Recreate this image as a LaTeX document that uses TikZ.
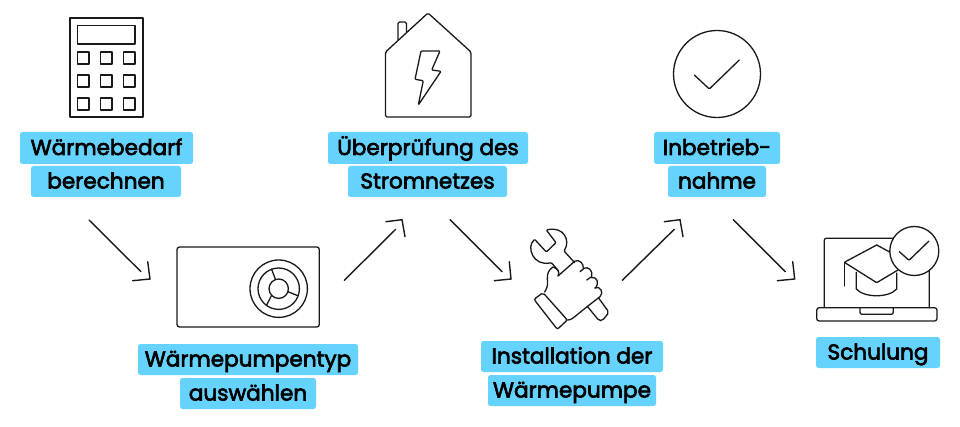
\documentclass[tikz,border=0pt]{standalone}
\usepackage{fontspec}
\setmainfont{Poppins}[FakeBold=3]
\definecolor{labelblue}{HTML}{66D3FF}
\tikzset{
  lbl/.style={fill=labelblue,rounded corners=2.5pt,inner sep=0pt,text=black,align=center,
    text height=17pt,text depth=3pt,font=\fontsize{21.6pt}{24pt}\selectfont},
  icon/.style={draw=black!90,line width=1.3pt,line join=round,line cap=round},
  flow/.style={draw=black!90,line width=1.4pt,line cap=round,line join=miter},
}
\newcommand\flowarrow[6]{%
  \coordinate (#1s) at (#2); \coordinate (#1e) at (#3);
  \coordinate (#1a) at (#4); \coordinate (#1t) at (#5); \coordinate (#1b) at (#6);
  \draw[flow] (#1s) -- (#1e);
  \draw[flow] (#1a) -- (#1t) -- (#1b);
}
\begin{document}
\begin{tikzpicture}[x=1pt,y=-1pt]
\path[fill=white,use as bounding box] (0,0) rectangle (960,427);
% labels
\node[lbl,minimum width=173pt,minimum height=32pt] (l1a) at (106.5,148) {Wärmebedarf};
\node[lbl,minimum width=150pt,minimum height=31pt] (l1b) at (106,181.5) {berechnen};
\node[lbl,minimum width=200pt,minimum height=32pt] (l3a) at (428,148) {Überprüfung des};
\node[lbl,minimum width=159pt,minimum height=31pt] (l3b) at (427.5,181.5) {Stromnetzes};
\node[lbl,minimum width=126pt,minimum height=32pt] (l5a) at (717,148) {Inbetrieb-};
\node[lbl,minimum width=98pt,minimum height=31pt] (l5b) at (717,181.5) {nahme};
\node[lbl,minimum width=220pt,minimum height=31pt] (l2a) at (248,359.5) {Wärmepumpentyp};
\node[lbl,minimum width=136pt,minimum height=31pt] (l2b) at (248,393.5) {auswählen};
\node[lbl,minimum width=182pt,minimum height=31pt] (l4a) at (572,356.5) {Installation der};
\node[lbl,minimum width=168pt,minimum height=31pt] (l4b) at (572,390.5) {Wärmepumpe};
\node[lbl,minimum width=124pt,minimum height=31pt] (l6) at (878,352.5) {Schulung};
% arrows
\flowarrow{f1}{89,220}{141,271.7}{147.7,261.7}{150,279}{132.7,280.7}
\flowarrow{f2}{344.3,280.3}{395.7,229.3}{386,221.7}{402,219.7}{405,236.7}
\flowarrow{f3}{450,219.7}{502,271.7}{509.3,261.7}{511,279}{494.3,280.7}
\flowarrow{f4}{622.3,280.3}{674.3,229.3}{664.3,221.7}{680,219.7}{683,236.7}
\flowarrow{f5}{733.3,219.7}{785.3,271.7}{792.7,261.7}{794.7,279}{777.3,280.7}
% calculator
\draw[icon] (70,18) rectangle (143,117);
\draw[icon] (77.5,25.5) rectangle (135,44);
\foreach \kx in {77.5,100.5,123.5}
  \foreach \ky in {52,75,98}
    \draw[icon] (\kx,\ky) rectangle +(11.5,12);
% house
\draw[icon,rounded corners=1.5pt] (428,13) -- (471,52) -- (471,117) -- (385.5,117) -- (385.5,52) -- cycle;
\draw[icon,rounded corners=1.5pt] (398,40) -- (398,22) -- (406.5,22) -- (406.5,32);
\draw[icon,rounded corners=1pt] (421,51) -- (440,51) -- (431.7,70) -- (441,71.3) -- (418.3,105) -- (423.3,80.7) -- (415,79.3) -- cycle;
% check mark circle
\draw[icon] (717,74) circle[radius=43.5pt];
\draw[icon,rounded corners=1pt] (694.3,75) -- (709.3,89) -- (739.3,60);
% heat pump
\draw[icon,rounded corners=2.5pt] (177,247) rectangle (319.3,327);
\draw[icon] (278.7,288.7) circle[radius=28.7pt];
\draw[icon] (278.7,288.7) circle[radius=20.7pt];
\draw[icon] (278.7,288.7) circle[radius=9.7pt];
\draw[icon] (275.5,279.5) -- (271.5,269);
\draw[icon] (288,291.7) -- (297.7,295.7);
\draw[icon] (271.5,295.5) -- (266.7,305);
% hand and wrench
\begin{scope}[shift={(440,210)},x=0.33333pt,y=-0.33333pt]
\draw[icon,rounded corners=1pt] (404,158) -- (372,123) .. controls (392,92) and (372,48) .. (319,60)
  -- (348,98) -- (319,126) -- (284,88) .. controls (258,112) and (280,170) .. (334,158) -- (356,183);
\draw[icon] (354,198) .. controls (362,186) and (350,174) .. (339,171)
  .. controls (325,180) and (322,190) .. (322,206) .. controls (322,220) and (326,226) .. (314,246);
\draw[icon] (354,198) -- (405,153) .. controls (418,148) and (432,160) .. (430,177) -- (420,185);
\draw[icon] (430,175) .. controls (445,168) and (460,182) .. (455,200) -- (440,210);
\draw[icon] (455,203) .. controls (470,198) and (480,220) .. (465,235);
\draw[icon] (465,233) .. controls (482,228) and (492,248) .. (480,260) -- (435,295) -- (398,325) .. controls (392,329) and (386,331) .. (380,330);
\draw[icon,rounded corners=2pt] (282,268) -- (309,248) -- (382,330) -- (352,358) -- cycle;
\draw[icon,rounded corners=2pt] (442,289) -- (477,332) -- (487,332) -- (507,307) -- (475,263);
\end{scope}
% laptop
\draw[icon,rounded corners=2pt] (824.3,307.3) -- (824.3,238.3) -- (929.3,238.3) -- (929.3,307.3);
\draw[icon,rounded corners=2.5pt] (816.7,307.7) rectangle (937,321);
\draw[icon,rounded corners=2pt] (860,307.7) -- (860,314.3) -- (893.3,314.3) -- (893.3,307.7);
\draw[icon,rounded corners=1pt] (876.7,245) -- (844.3,262.3) -- (876.7,282.7) -- (908,264);
\draw[icon] (876.7,245) -- (908,262);
\draw[icon] (844.3,262.3) -- (844.3,286);
\draw[icon] (856.3,272.3) -- (856.3,289) .. controls (864,298) and (889,298) .. (896.7,289) -- (896.7,273);
\draw[icon,fill=white] (914.3,251) circle[radius=24.5pt];
\draw[icon,rounded corners=1pt] (899.3,251.7) -- (909,260.3) -- (929,241);
\end{tikzpicture}
\end{document}
